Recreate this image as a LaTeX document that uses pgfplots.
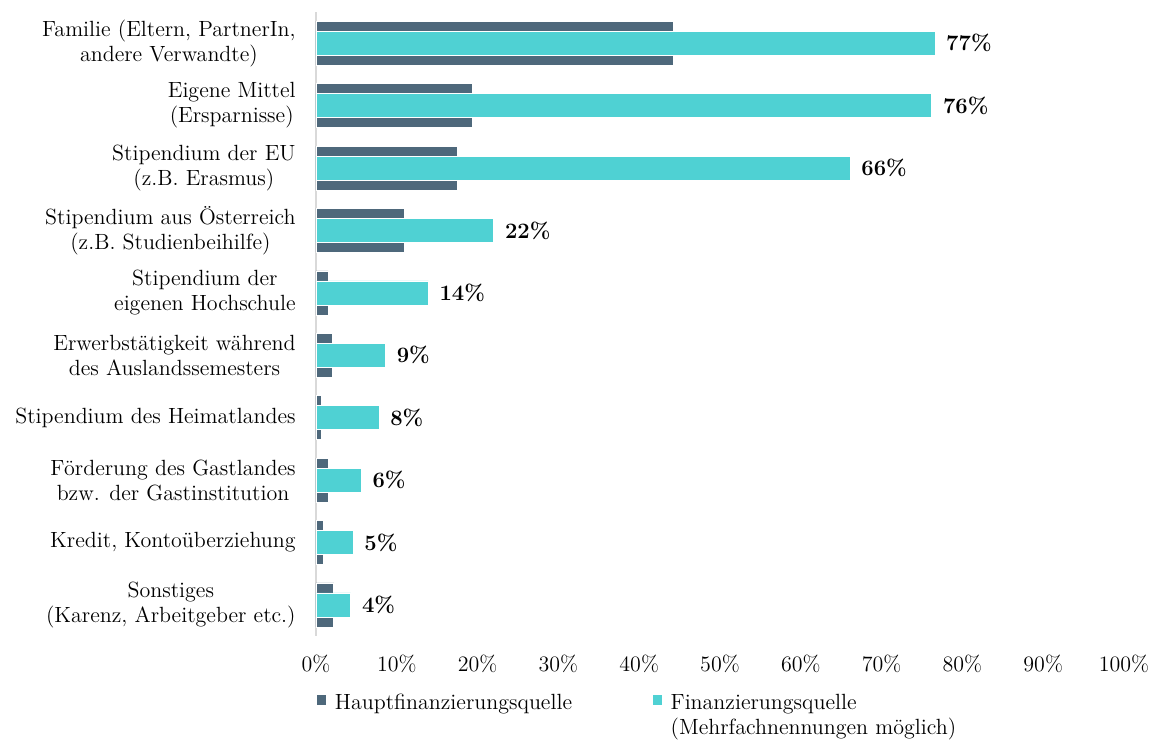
\documentclass[border=0pt]{standalone}
\usepackage{pgfplots}
\pgfplotsset{compat=1.18}
\definecolor{darkbar}{HTML}{4E687B}
\definecolor{cyanbar}{HTML}{4FD1D3}
\definecolor{axisgray}{HTML}{D9D9D9}
\newcommand{\lblfont}{\fontsize{11}{12.5}\selectfont}
\begin{document}
\lblfont
\begin{tikzpicture}
\path[use as bounding box] (-158pt,-51.5pt) rectangle (419.5pt,318pt);
\begin{axis}[
  at={(0,0)}, anchor=south west, scale only axis,
  width=404pt, height=312pt,
  xbar, bar shift=0pt,
  xmin=0, xmax=100, ymin=-0.5, ymax=9.5, y dir=reverse,
  axis y line*=left, axis x line*=bottom,
  x axis line style={draw=none},
  y axis line style={draw=axisgray, line width=0.8pt, -},
  major tick length=0pt,
  xtick={0,10,...,100},
  xticklabel={\pgfmathprintnumber[assume math mode=true]{\tick}\%},
  xticklabel style={inner sep=0pt, yshift=-9.5pt, font=\lblfont},
  ytick={0,...,9},
  yticklabels={{Familie (Eltern, PartnerIn,\\andere Verwandte)},
    {Eigene Mittel\\(Ersparnisse)},
    {Stipendium der EU\\(z.B. Erasmus)},
    {Stipendium aus Österreich\\(z.B. Studienbeihilfe)},
    {Stipendium der\\eigenen Hochschule},
    {Erwerbstätigkeit während\\des Auslandssemesters},
    {Stipendium des Heimatlandes},
    {Förderung des Gastlandes\\bzw. der Gastinstitution},
    {Kredit, Kontoüberziehung},
    {Sonstiges\\(Karenz, Arbeitgeber etc.)}},
  yticklabel style={align=center, inner sep=0pt, xshift=-10pt, font=\lblfont},
  legend columns=2,
  legend style={at={(0,-0.085)}, anchor=north west, draw=none, fill=none,
    cells={align=left, anchor=north west, inner sep=0pt},
    inner sep=0pt,
    font=\lblfont,
    /tikz/every odd column/.append style={column sep=2pt},
    /tikz/every even column/.append style={column sep=38pt}},
  legend image code/.code={\fill[#1] (1pt,-7.8pt) rectangle (6pt,-2.6pt);},
]
\addplot[fill=darkbar, draw=white, line width=0.3pt, bar width=22pt] coordinates {
  (44.2,0) (19.4,1) (17.5,2) (10.9,3) (1.5,4) (2.0,5) (0.7,6) (1.5,7) (0.9,8) (2.2,9)};
\addlegendentry{Hauptfinanzierungsquelle}
\addplot[fill=cyanbar, draw=white, line width=0.3pt, bar width=12pt,
  point meta=x,
  nodes near coords={\pgfmathprintnumber[fixed,precision=0,assume math mode=true]{\pgfplotspointmeta}\%},
  nodes near coords style={anchor=west, inner sep=0pt, xshift=5.5pt, font=\lblfont\bfseries, text=black}]
  coordinates {
  (76.6,0) (76.2,1) (66.1,2) (22.0,3) (13.9,4) (8.6,5) (7.8,6) (5.6,7) (4.6,8) (4.3,9)};
\addlegendentry{Finanzierungsquelle\\(Mehrfachnennungen möglich)}
\end{axis}
\end{tikzpicture}
\end{document}
